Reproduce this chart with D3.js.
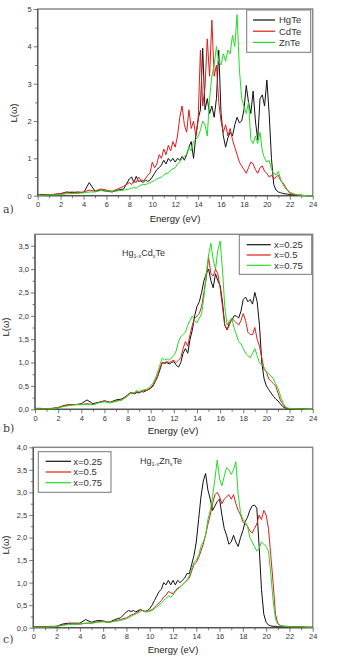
<!DOCTYPE html>
<html><head><meta charset="utf-8">
<script src="https://cdn.jsdelivr.net/npm/d3@7/dist/d3.min.js"></script>
<style>body{margin:0;background:#fff}svg{display:block}</style>
</head><body>
<svg id="chart" width="343" height="662"></svg>
<script>
const energy = [0,0.5,1,1.5,2,2.5,3,3.5,4,4.5,5,5.5,6,6.5,7,7.5,
8,8.2,8.4,8.6,8.8,9,9.2,9.4,9.6,9.8,10,10.2,10.4,10.6,10.8,11,11.2,11.4,11.6,11.8,
12,12.2,12.4,12.6,12.8,13,13.2,13.4,13.6,13.8,14,14.2,14.4,14.6,14.8,15,15.2,15.4,15.6,15.8,
16,16.2,16.4,16.6,16.8,17,17.2,17.4,17.6,17.8,18,18.2,18.4,18.6,18.8,19,19.2,19.4,19.6,19.8,
20,20.2,20.4,20.6,20.8,21,21.2,21.4,21.6,21.8,22,22.5,23,23.5,24];

// Panel a
const aHgTe = [0.02,0.03,0.02,0.04,0.05,0.1,0.08,0.1,0.08,0.35,0.12,0.15,0.12,0.1,0.15,0.18,
0.45,0.5,0.35,0.52,0.38,0.4,0.35,0.42,0.38,0.42,0.5,0.6,0.7,0.75,0.82,0.95,0.85,1.0,0.92,1.0,
0.9,1.0,0.95,1.05,0.95,1.1,1.3,1.45,1.0,1.6,2.05,2.3,3.95,2.3,2.6,2.2,2.4,2.1,2.6,3.9,
2.2,1.6,1.3,1.55,1.7,1.6,1.9,2.1,1.95,2.0,2.3,2.95,2.5,2.2,2.8,2.0,1.5,2.6,2.7,2.4,
3.1,2.2,1.0,0.3,0.15,0.1,0.08,0.06,0.05,0.04,0.03,0.02,0.01,0,0];
const aCdTe = [0.01,0.01,0.02,0.03,0.06,0.08,0.1,0.08,0.1,0.15,0.12,0.18,0.15,0.12,0.18,0.25,
0.35,0.3,0.4,0.35,0.5,0.42,0.4,0.45,0.55,0.6,0.9,0.75,0.85,1.1,1.0,1.25,1.1,1.35,1.2,1.45,
1.3,1.6,2.1,2.4,1.9,1.7,2.3,1.8,2.0,1.6,2.0,3.9,2.4,2.9,4.2,3.2,4.7,3.2,3.5,2.5,
2.0,1.7,1.9,1.6,1.8,1.5,1.3,1.1,0.9,0.8,0.7,0.6,0.75,0.9,0.85,0.7,0.6,0.75,0.8,0.65,
0.6,0.5,0.55,0.45,0.5,0.55,0.4,0.35,0.25,0.15,0.06,0.02,0.01,0,0];
const aZnTe = [0.01,0.01,0.02,0.02,0.03,0.05,0.06,0.06,0.08,0.1,0.1,0.14,0.12,0.12,0.13,0.15,
0.18,0.2,0.22,0.2,0.25,0.28,0.3,0.3,0.32,0.35,0.38,0.4,0.45,0.48,0.5,0.55,0.6,0.6,0.68,0.72,
0.75,0.85,0.9,1.0,1.05,1.1,1.3,1.2,1.45,1.5,1.6,1.75,2.0,1.9,1.6,2.6,3.2,3.5,4.0,3.6,
3.5,3.8,3.6,3.9,3.8,4.3,4.0,4.85,3.4,2.6,2.4,2.2,2.5,1.5,1.4,1.6,1.4,1.7,1.2,1.0,
0.9,0.95,0.7,0.6,0.55,0.65,0.45,0.3,0.2,0.15,0.1,0.03,0.01,0,0];

// Panel b: Hg1-xCdxTe
const bX025 = [0.02,0.02,0.01,0.02,0.03,0.08,0.1,0.1,0.12,0.2,0.12,0.15,0.18,0.15,0.2,0.22,
0.3,0.35,0.35,0.33,0.36,0.35,0.38,0.37,0.4,0.42,0.45,0.5,0.6,0.7,0.85,1.0,0.98,1.0,0.97,1.0,
1.02,0.95,0.9,1.0,1.2,1.3,1.2,1.5,1.7,2.0,2.2,2.3,2.5,2.75,2.9,3.0,2.75,2.6,2.9,2.75,
2.65,2.3,1.8,1.7,1.85,1.9,2.0,2.0,1.95,2.1,2.35,2.4,2.3,2.35,2.25,2.5,2.3,1.8,1.0,0.65,
0.5,0.42,0.35,0.28,0.22,0.18,0.12,0.06,0.03,0.02,0.01,0.01,0.01,0,0];
const bX05 = [0.01,0.01,0.01,0.02,0.04,0.08,0.1,0.1,0.1,0.12,0.1,0.14,0.18,0.14,0.18,0.2,
0.3,0.35,0.34,0.35,0.38,0.36,0.38,0.4,0.4,0.43,0.46,0.52,0.62,0.72,0.88,1.0,1.0,1.02,1.0,1.03,
1.05,1.0,1.05,1.1,1.3,1.45,1.35,1.6,1.8,1.95,2.0,2.05,2.2,2.5,2.8,3.25,2.9,2.85,3.0,2.9,
2.6,2.2,1.8,1.7,1.8,1.95,1.9,1.85,1.8,1.9,2.05,1.9,1.65,1.6,1.6,1.75,1.5,1.35,1.1,0.85,
0.8,0.65,0.6,0.55,0.5,0.35,0.2,0.12,0.05,0.02,0.01,0.01,0.01,0,0];
const bX075 = [0.01,0.01,0.01,0.01,0.03,0.06,0.08,0.1,0.1,0.1,0.1,0.14,0.16,0.14,0.17,0.2,
0.28,0.33,0.35,0.36,0.4,0.38,0.4,0.42,0.42,0.45,0.5,0.56,0.66,0.8,0.95,1.1,1.05,1.08,1.05,1.1,
1.15,1.25,1.45,1.55,1.6,1.65,1.8,1.9,2.0,1.9,1.85,1.95,2.05,2.4,2.9,3.3,3.55,3.2,3.0,3.4,
3.6,3.0,2.2,1.8,1.9,1.95,1.75,1.6,1.45,1.4,1.3,1.2,1.15,1.1,1.2,1.3,1.15,1.0,0.95,0.9,
0.8,0.75,0.72,0.65,0.55,0.45,0.3,0.15,0.06,0.03,0.02,0.01,0.01,0,0];

// Panel c: Hg1-xZnxTe
const cX025 = [0.02,0.02,0.02,0.03,0.03,0.08,0.1,0.1,0.1,0.18,0.12,0.16,0.15,0.12,0.18,0.22,
0.35,0.38,0.36,0.38,0.35,0.38,0.4,0.38,0.36,0.38,0.42,0.5,0.6,0.7,0.8,0.85,1.0,0.95,1.05,0.95,
1.05,0.95,1.05,1.0,1.05,1.1,1.2,1.2,1.4,1.6,1.9,2.4,2.9,3.25,3.42,3.05,2.85,2.6,2.7,2.8,
2.85,2.5,2.2,2.05,1.85,1.9,2.05,1.9,1.8,2.0,2.15,2.35,2.45,2.6,2.7,2.72,2.65,1.8,0.85,0.3,
0.12,0.06,0.04,0.03,0.03,0.02,0.02,0.02,0.02,0.02,0.02,0.02,0.02,0.01,0.01];
const cX05 = [0.01,0.02,0.02,0.02,0.03,0.06,0.08,0.08,0.08,0.1,0.1,0.13,0.14,0.12,0.15,0.18,
0.22,0.25,0.28,0.3,0.32,0.35,0.4,0.38,0.36,0.35,0.38,0.4,0.45,0.5,0.55,0.6,0.68,0.72,0.8,0.78,
0.75,0.82,0.88,0.9,0.95,1.0,1.05,1.1,1.25,1.4,1.45,1.55,1.7,1.85,2.05,2.3,2.5,2.75,2.95,3.0,
2.9,2.75,2.85,2.9,2.95,2.85,2.95,2.75,2.6,2.5,2.35,2.3,2.25,2.15,2.1,2.2,2.3,2.5,2.4,2.6,
2.5,2.2,1.6,1.0,0.3,0.1,0.05,0.04,0.03,0.03,0.02,0.02,0.02,0.01,0.01];
const cX075 = [0.01,0.01,0.01,0.02,0.03,0.05,0.07,0.08,0.08,0.1,0.1,0.12,0.13,0.12,0.14,0.16,
0.2,0.22,0.25,0.28,0.3,0.33,0.36,0.38,0.35,0.36,0.36,0.38,0.42,0.46,0.5,0.55,0.6,0.65,0.7,0.68,
0.72,0.8,0.85,0.9,0.95,1.0,1.05,1.15,1.3,1.45,1.5,1.6,1.8,1.9,2.05,2.4,2.6,2.9,3.3,3.72,
3.3,3.15,3.35,3.55,3.5,3.4,3.5,3.68,2.95,2.55,2.4,2.35,2.25,2.0,1.9,1.8,1.7,1.75,1.9,1.85,
1.8,1.7,1.2,0.6,0.2,0.08,0.05,0.04,0.03,0.03,0.02,0.02,0.02,0.01,0.01];

const xTicks = [0,2,4,6,8,10,12,14,16,18,20,22,24];
const aYTicks = [0,1,2,3,4,5];
const bYTicks = [0,0.5,1,1.5,2,2.5,3,3.5];
const cYTicks = [0,0.5,1,1.5,2,2.5,3,3.5,4];
const aNames = ["HgTe","CdTe","ZnTe"];
const xNames = ["x=0.25","x=0.5","x=0.75"];
const colors = ["#111111","#e31a1a","#22dd22"];

const svg = d3.select("#chart");
const FONT = "Liberation Sans, Arial, sans-serif";
const comma = d => d3.format(".1f")(d).replace(".", ",");

function panel(o) {
  const x = d3.scaleLinear().domain([0,24]).range([o.left, o.right]);
  const y = d3.scaleLinear().domain([0,o.ymax]).range([o.bottom, o.top]);
  const g = svg.append("g");
  // frame
  g.append("rect").attr("x",o.left).attr("y",o.top)
    .attr("width",o.right-o.left).attr("height",o.bottom-o.top)
    .attr("fill","none").attr("stroke","#8a8a8a").attr("stroke-width",1.5);
  // minor ticks
  const xa = d3.axisBottom(x).tickValues(d3.range(1,24,2)).tickSize(2.5).tickFormat("");
  g.append("g").attr("transform",`translate(0,${o.bottom})`).call(xa);
  const ya = d3.axisLeft(y).tickValues(o.yminor).tickSize(2.5).tickFormat("");
  g.append("g").attr("transform",`translate(${o.left},0)`).call(ya);
  // major
  const xA = d3.axisBottom(x).tickValues(xTicks).tickSize(4).tickPadding(2);
  const gx = g.append("g").attr("transform",`translate(0,${o.bottom})`).call(xA);
  const yA = d3.axisLeft(y).tickValues(o.yticks).tickSize(4).tickPadding(2).tickFormat(o.yfmt);
  const gy = g.append("g").attr("transform",`translate(${o.left},0)`).call(yA);
  g.selectAll(".domain").remove();
  g.selectAll(".tick line").attr("stroke","#555").attr("stroke-width",0.8);
  g.selectAll(".tick text").attr("font-family",FONT).attr("font-size",7.5).attr("fill","#333");
  // line
  [o.left, o.bottom].forEach(()=>{});
  g.append("line").attr("x1",o.left).attr("x2",o.left).attr("y1",o.top).attr("y2",o.bottom).attr("stroke","#555").attr("stroke-width",1.2);
  g.append("line").attr("x1",o.left).attr("x2",o.right).attr("y1",o.bottom).attr("y2",o.bottom).attr("stroke","#555").attr("stroke-width",1.2);
  // series
  const line = d3.line().x((d,i)=>x(energy[i])).y(d=>y(d));
  o.series.forEach((s,i)=>{
    g.append("path").datum(s).attr("d",line).attr("fill","none")
      .attr("stroke",colors[i]).attr("stroke-width",1).attr("stroke-linejoin","round");
  });
  // axis titles
  g.append("text").attr("x",o.xlabX).attr("y",o.xlabY).attr("text-anchor","middle")
    .attr("font-family",FONT).attr("font-size",9.5).attr("fill","#222").text("Energy (eV)");
  g.append("text").attr("transform",`translate(${o.ylabX},${o.ylabY}) rotate(-90)`)
    .attr("text-anchor","middle").attr("font-family",FONT).attr("font-size",9.5).attr("fill","#222").text("L(ω)");
  g.append("text").attr("x",3).attr("y",o.tagY).attr("font-family","DejaVu Serif, serif")
    .attr("font-size",11).attr("fill","#444").text(o.tag);
  // legend
  const L = o.legend;
  g.append("rect").attr("x",L.x).attr("y",L.y).attr("width",L.w).attr("height",L.h)
    .attr("fill","#fff").attr("stroke","#777").attr("stroke-width",1);
  o.names.forEach((n,i)=>{
    const yy = L.y0 + i*L.dy;
    g.append("line").attr("x1",L.lx1).attr("x2",L.lx2).attr("y1",yy).attr("y2",yy)
      .attr("stroke",colors[i]).attr("stroke-width",1.2);
    g.append("text").attr("x",L.tx).attr("y",yy+3.3).attr("font-family",FONT)
      .attr("font-size",9.5).attr("fill","#333").text(n);
  });
  if (o.note) {
    const t = g.append("text").attr("x",o.note.x).attr("y",o.note.y)
      .attr("font-family",FONT).attr("font-size",9).attr("fill","#333");
    t.append("tspan").text("Hg");
    t.append("tspan").attr("font-size",5.5).attr("dy",2).text("1-x");
    t.append("tspan").attr("dy",-2).text(o.note.el);
    t.append("tspan").attr("font-size",5.5).attr("dy",2).text("x");
    t.append("tspan").attr("dy",-2).text("Te");
  }
}

panel({left:37.7,right:312.7,top:9,bottom:195.7,ymax:5,yticks:aYTicks,
  yminor:[0.5,1.5,2.5,3.5,4.5],yfmt:d3.format("d"),
  series:[aHgTe,aCdTe,aZnTe],names:aNames,
  xlabX:175,xlabY:222,ylabX:17,ylabY:113,tag:"a)",tagY:213,
  legend:{x:246.7,y:10,w:64,h:42.3,y0:20,dy:11.2,lx1:253,lx2:275,tx:279}});

panel({left:35,right:312.7,top:234.3,bottom:409.3,ymax:3.744,yticks:bYTicks,
  yminor:[0.25,0.75,1.25,1.75,2.25,2.75,3.25],yfmt:comma,
  series:[bX025,bX05,bX075],names:xNames,
  xlabX:173,xlabY:434,ylabX:9,ylabY:327,tag:"b)",tagY:432,
  legend:{x:239.3,y:235,w:72.4,h:39.3,y0:244.7,dy:10.3,lx1:246.7,lx2:270.7,tx:274},
  note:{x:122,y:256,el:"Cd"}});

panel({left:33.3,right:312.7,top:447.3,bottom:627.7,ymax:4,yticks:cYTicks,
  yminor:[0.25,0.75,1.25,1.75,2.25,2.75,3.25,3.75],yfmt:comma,
  series:[cX025,cX05,cX075],names:xNames,
  xlabX:173,xlabY:653,ylabX:9,ylabY:545,tag:"c)",tagY:643,
  legend:{x:38.3,y:451.7,w:72.7,h:40.6,y0:461.3,dy:10.7,lx1:45.7,lx2:71,tx:73.3},
  note:{x:140,y:464,el:"Zn"}});
</script>
</body></html>
